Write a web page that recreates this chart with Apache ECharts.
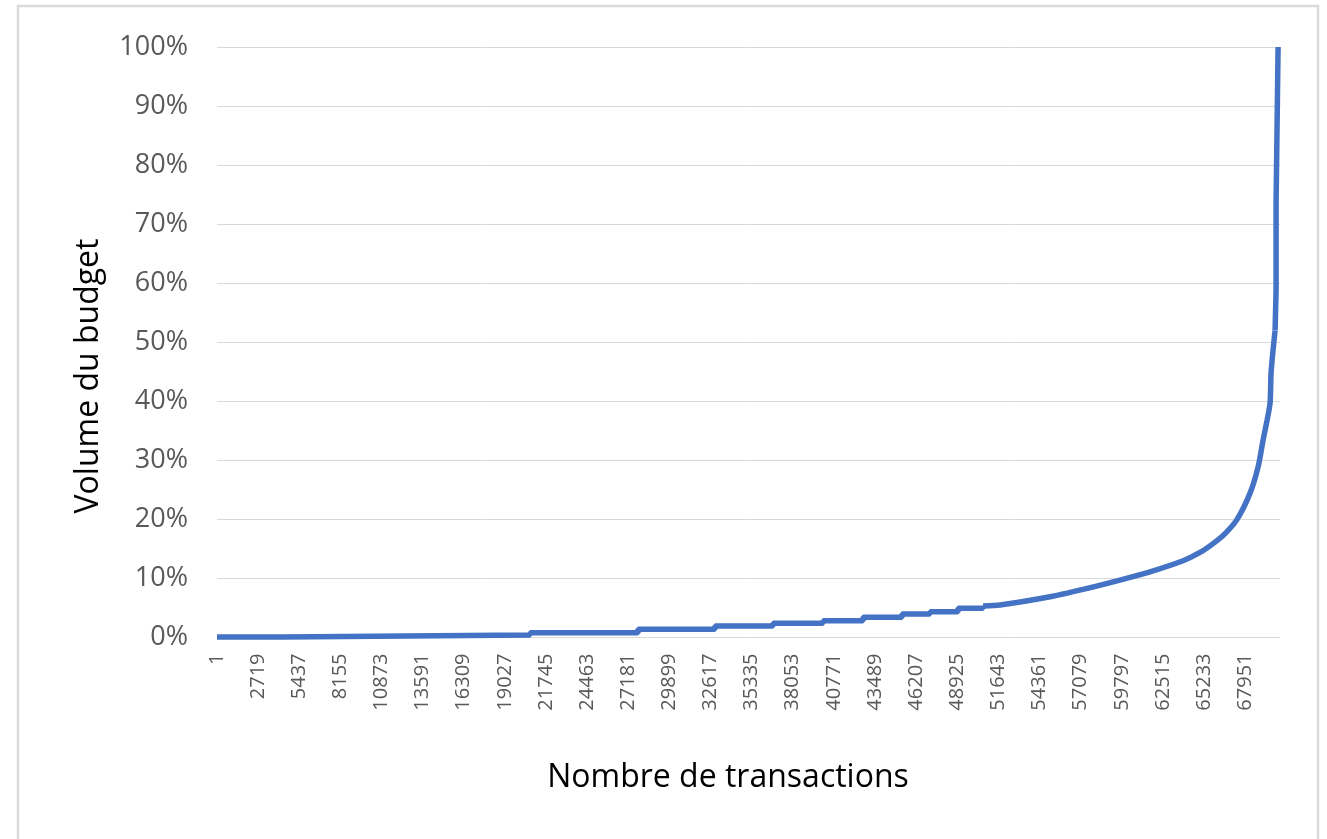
<!DOCTYPE html>
<html>
<head>
<meta charset="utf-8">
<script src="https://cdn.jsdelivr.net/npm/echarts@6/dist/echarts.min.js"></script>
<style>
html,body{margin:0;padding:0;background:#fff;}
#chart{width:1327px;height:839px;}
</style>
</head>
<body>
<div id="chart"></div>
<script>
// Tick labels / axis
const tickStep = 2718;            // category label interval (1, 2719, 5437, ...)
const totalTransactions = 70250;  // length of the category axis
const yTicks = [0,10,20,30,40,50,60,70,80,90,100];
const xTitle = 'Nombre de transactions';
const yTitle = 'Volume du budget';

// Low part of the cumulative curve (drawn as steps, as in the reference)
const stepIdx = [0, 4296, 20686, 27824, 32913, 36746, 40051, 42694, 45272, 47122, 48973, 50625];
const stepPct = [0.1, 0.42, 0.81, 1.39, 1.95, 2.4, 2.84, 3.42, 3.98, 4.37, 4.94, 5.33];

// Upper part of the cumulative curve
const curveIdx = [50625, 51748, 55053, 57234, 59481, 61662, 63843, 64966, 65826, 66619, 67412, 68271, 68800, 69131, 69396, 69594, 69660, 69792, 69925];
const curvePct = [5.33, 5.5, 6.9, 8.15, 9.6, 11.13, 13.0, 14.4, 15.9, 17.6, 20.0, 24.45, 28.85, 33.4, 36.8, 39.7, 44.8, 48.7, 52.0];

// Final near-vertical part
const topIdx = [69925, 69991, 69991, 70123, 70123];
const topPct = [52.0, 58.8, 73.5, 73.5, 100];

const stepData = stepIdx.map((x, i) => [x, stepPct[i]]);
const curveData = curveIdx.map((x, i) => [x, curvePct[i]]);
const topData = topIdx.map((x, i) => [x, topPct[i]]);

const chart = echarts.init(document.getElementById('chart'));
const lineColor = '#4472C4';
const textColor = '#595959';
const gridColor = '#d9d9d9';
const lw = 5.5;

chart.setOption({
  animation: false,
  backgroundColor: '#ffffff',
  grid: { left: 217, right: 47, top: 47, bottom: 201.5, containLabel: false },
  xAxis: {
    type: 'value',
    min: 0,
    max: totalTransactions,
    interval: tickStep,
    axisLine: { show: false },
    axisTick: { show: false },
    splitLine: { show: false },
    axisLabel: {
      rotate: 90,
      margin: 16,
      color: textColor,
      fontFamily: 'Open Sans',
      fontSize: 20,
      showMaxLabel: false,
      formatter: v => (v % tickStep === 0 ? String(v + 1) : '')
    }
  },
  yAxis: {
    type: 'value',
    min: yTicks[0],
    max: yTicks[yTicks.length - 1],
    interval: yTicks[1] - yTicks[0],
    axisLine: { show: false },
    axisTick: { show: false },
    splitLine: { show: true, lineStyle: { color: gridColor, width: 1 } },
    axisLabel: {
      margin: 29,
      color: textColor,
      fontFamily: 'Open Sans',
      fontSize: 27,
      formatter: v => v + '%'
    }
  },
  graphic: [
    {
      type: 'rect',
      shape: { x: 18, y: 6, width: 1300, height: 840 },
      style: { fill: 'none', stroke: '#d9d9d9', lineWidth: 2.5 },
      silent: true, z: -1
    },
    {
      type: 'text',
      x: 728, y: 778,
      style: { text: xTitle, font: '32px "Open Sans"', fill: '#000000', align: 'center', verticalAlign: 'middle' }
    },
    {
      type: 'text',
      x: 89, y: 376,
      rotation: Math.PI / 2,
      style: { text: yTitle, font: '32px "Open Sans"', fill: '#000000', align: 'center', verticalAlign: 'middle' }
    }
  ],
  series: [
    {
      type: 'line',
      data: stepData,
      step: 'end',
      showSymbol: false,
      lineStyle: { color: lineColor, width: lw },
      z: 3
    },
    {
      type: 'line',
      data: curveData,
      smooth: 0.25,
      showSymbol: false,
      lineStyle: { color: lineColor, width: lw },
      z: 3
    },
    {
      type: 'line',
      data: topData,
      showSymbol: false,
      lineStyle: { color: lineColor, width: lw },
      z: 3
    }
  ]
});
</script>
</body>
</html>
